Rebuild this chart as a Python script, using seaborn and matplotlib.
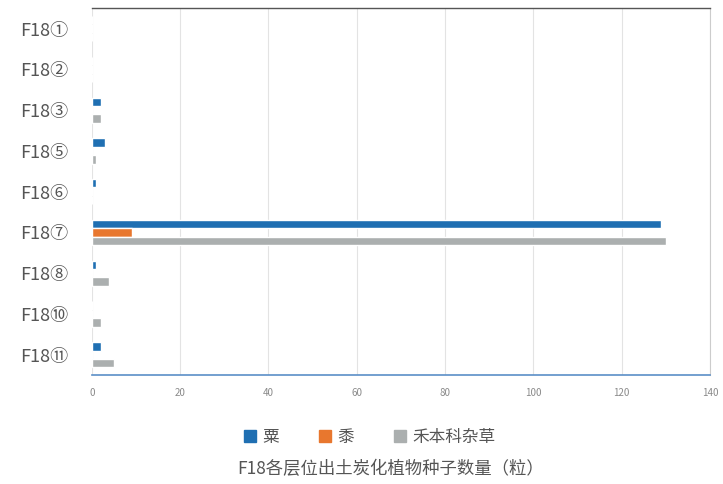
import numpy as np
import pandas as pd
import matplotlib
matplotlib.use("Agg")
import matplotlib.pyplot as plt
import seaborn as sns

layers = ["F18①", "F18②", "F18③", "F18⑤", "F18⑥", "F18⑦", "F18⑧", "F18⑩", "F18⑪"]
millet = [0, 0, 2, 3, 1, 129, 1, 0, 2]        # 粟
broomcorn = [0, 0, 0, 0, 0, 9, 0, 0, 0]       # 黍
weeds = [0, 0, 2, 1, 0, 130, 4, 2, 5]         # 禾本科杂草
series_names = ["粟", "黍", "禾本科杂草"]
colors = ["#1f6fb2", "#e8772e", "#abafaf"]

df = pd.DataFrame({"层位": layers, "粟": millet, "黍": broomcorn, "禾本科杂草": weeds})
long_df = df.melt(id_vars="层位", var_name="种类", value_name="数量")

sns.set_style("white")
plt.rcParams["font.family"] = ["Noto Sans CJK SC", "DejaVu Sans"]

fig = plt.figure(figsize=(7.23, 4.84), dpi=100)
ax = fig.add_axes([0.127, 0.225, 0.855, 0.758])

sns.barplot(data=long_df, y="层位", x="数量", hue="种类", hue_order=series_names,
            order=layers, palette=colors, orient="h", width=0.62, ax=ax,
            legend=False, saturation=1)

ax.set_xlim(0, 140)
ax.set_xticks(np.arange(0, 141, 20))
ax.set_ylim(len(layers) - 0.5, -0.5)
ax.grid(axis="x", color="#e3e3e3", linewidth=0.8)
ax.set_axisbelow(True)
ax.set_xlabel("")
ax.set_ylabel("")
ax.tick_params(axis="x", labelsize=7, colors="#8a8a8a", length=0, pad=9)
ax.tick_params(axis="y", labelsize=13, colors="#555555", length=0, pad=17)

ax.spines["left"].set_visible(False)
ax.spines["top"].set_color("#555555")
ax.spines["top"].set_linewidth(1.0)
ax.spines["right"].set_color("#cccccc")
ax.spines["bottom"].set_color("#5b8fc7")
ax.spines["bottom"].set_linewidth(1.2)

handles = [plt.Rectangle((0, 0), 1, 1, color=c) for c in colors]
fig.legend(handles, series_names, loc="center", bbox_to_anchor=(0.512, 0.097),
           ncol=3, frameon=False, fontsize=12, handlelength=0.7, handleheight=0.7,
           columnspacing=2.4, handletextpad=0.4, labelcolor="#555555")
fig.text(0.54, 0.03, "F18各层位出土炭化植物种子数量（粒）", ha="center", va="center",
         fontsize=12.5, color="#555555")

fig.savefig("out.png", dpi=100)
